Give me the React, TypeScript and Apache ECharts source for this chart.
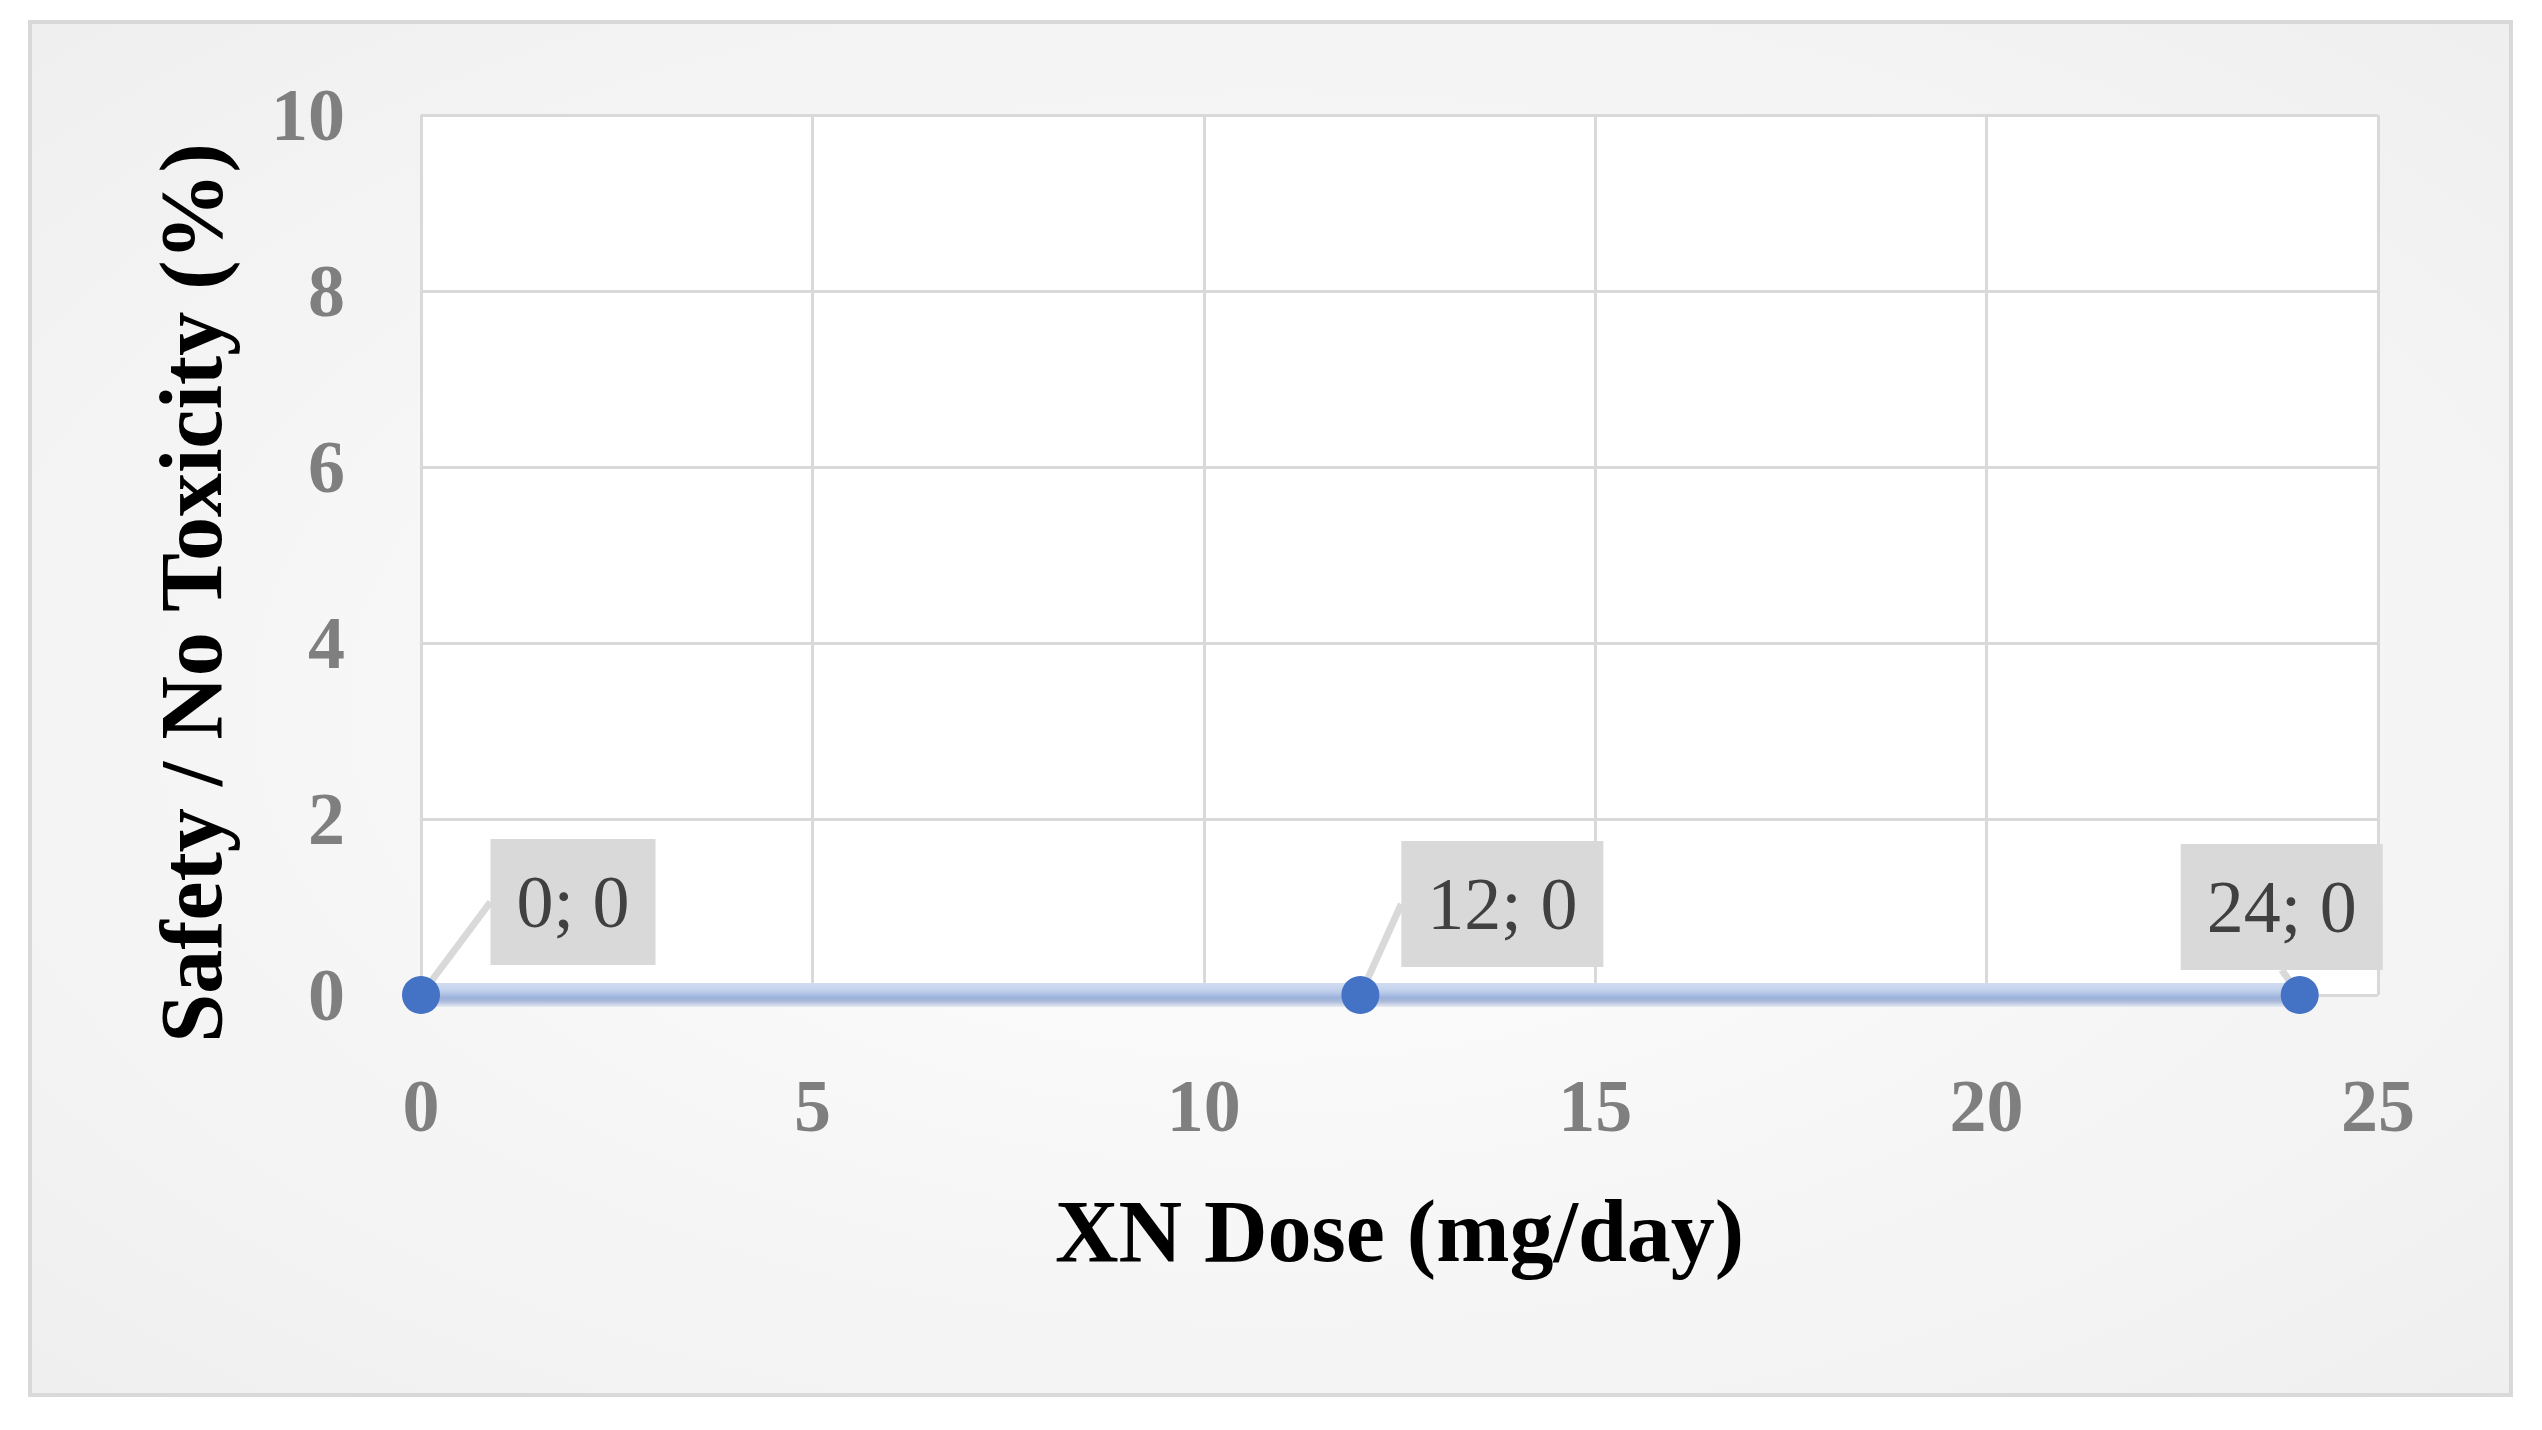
import React, { useEffect, useRef } from 'react';
import * as echarts from 'echarts';

// Data
const DOSES = [0, 12, 24];
const SAFETY = [0, 0, 0];
const X_MIN = 0, X_MAX = 25, X_INTERVAL = 5;
const Y_MIN = 0, Y_MAX = 10, Y_INTERVAL = 2;
const X_TITLE = 'XN Dose (mg/day)';
const Y_TITLE = 'Safety / No Toxicity (%)';
// label callout offsets (layout, px)
const LABEL_DX = [152, 142, -18];
const LABEL_DY = [-93, -91, -88];

const FONT = '"Liberation Serif", "Times New Roman", serif';

export default function App() {
  const ref = useRef<HTMLDivElement>(null);
  useEffect(() => {
    const chart = echarts.init(ref.current as HTMLDivElement, null, { renderer: 'svg' });
    const points = DOSES.map((d, i) => [d, SAFETY[i]]);
    chart.setOption({
      animation: false,
      backgroundColor: '#ffffff',
      graphic: [
        {
          type: 'rect',
          z: -10,
          shape: { x: 30, y: 22, width: 2481, height: 1373 },
          style: {
            fill: new echarts.graphic.RadialGradient(0.5, 0.5, 0.75, [
              { offset: 0, color: '#ffffff' },
              { offset: 1, color: '#eeeeee' },
            ]),
            stroke: '#d9d9d9',
            lineWidth: 4,
          },
        },
      ],
      grid: {
        left: 421,
        right: 164,
        top: 115,
        bottom: 435,
        show: true,
        backgroundColor: '#ffffff',
        borderWidth: 0,
      },
      xAxis: {
        type: 'value',
        min: X_MIN,
        max: X_MAX,
        interval: X_INTERVAL,
        name: X_TITLE,
        nameLocation: 'middle',
        nameGap: 192,
        nameTextStyle: { fontFamily: FONT, fontWeight: 'bold', fontSize: 88, color: '#000000' },
        axisLine: { show: false },
        axisTick: { show: false },
        axisLabel: { margin: 74, fontFamily: FONT, fontWeight: 'bold', fontSize: 74, color: '#7f7f7f' },
        splitLine: { show: true, lineStyle: { color: '#d9d9d9', width: 3 } },
      },
      yAxis: {
        type: 'value',
        min: Y_MIN,
        max: Y_MAX,
        interval: Y_INTERVAL,
        name: Y_TITLE,
        nameLocation: 'middle',
        nameRotate: 90,
        nameGap: 186,
        nameTextStyle: {
          fontFamily: FONT,
          fontWeight: 'bold',
          fontSize: 88,
          color: '#000000',
          padding: [0, 76, 0, 0],
        },
        axisLine: { show: false },
        axisTick: { show: false },
        axisLabel: { margin: 76, fontFamily: FONT, fontWeight: 'bold', fontSize: 74, color: '#7f7f7f' },
        splitLine: { show: true, lineStyle: { color: '#d9d9d9', width: 3 } },
      },
      series: [
        {
          type: 'line',
          data: points,
          symbol: 'circle',
          symbolSize: 38,
          clip: false,
          itemStyle: { color: '#4472c4' },
          lineStyle: {
            width: 24,
            color: new echarts.graphic.LinearGradient(
              0, 983, 0, 1007,
              [
                { offset: 0, color: '#d0dcf0' },
                { offset: 0.25, color: '#c6d4ed' },
                { offset: 0.45, color: '#b3c5e6' },
                { offset: 0.6, color: '#9cb2dc' },
                { offset: 0.75, color: '#a8b8d8' },
                { offset: 1, color: '#e6eaf2' },
              ],
              true
            ),
          },
          label: {
            show: true,
            position: 'inside',
            formatter: (p: any) => `${p.value[0]}; ${p.value[1]}`,
            fontFamily: FONT,
            fontSize: 74,
            lineHeight: 74,
            color: '#404040',
            backgroundColor: '#d9d9d9',
            padding: [26, 26],
          },
          labelLayout: (params: any) => ({
            dx: LABEL_DX[params.dataIndex],
            dy: LABEL_DY[params.dataIndex],
          }),
          labelLine: {
            show: true,
            lineStyle: { color: '#d9d9d9', width: 7 },
          },
        },
      ],
    });
    return () => chart.dispose();
  }, []);
  return <div ref={ref} style={{ position: 'fixed', left: 0, top: 0, width: 2542, height: 1430 }} />;
}
